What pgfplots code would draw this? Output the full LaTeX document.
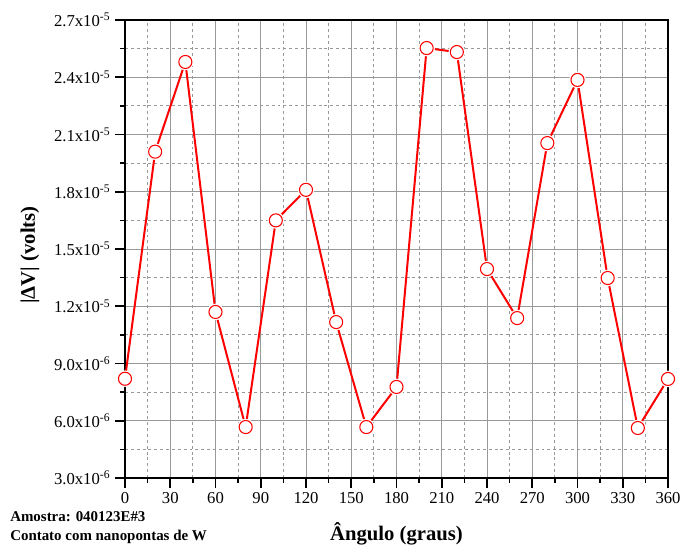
\documentclass[border=0pt]{standalone}
\usepackage{fontspec}
\setmainfont{Liberation Serif}
\usepackage{pgfplots}
\pgfplotsset{compat=1.18}
\pgfplotstableread{
ang val
0 8.2e-6
20 20.1e-6
40 24.8e-6
60 11.7e-6
80 5.67e-6
100 16.5e-6
120 18.1e-6
140 11.17e-6
160 5.67e-6
180 7.77e-6
200 25.53e-6
220 25.32e-6
240 13.95e-6
260 11.38e-6
280 20.55e-6
300 23.86e-6
320 13.48e-6
340 5.62e-6
360 8.19e-6
}\datatab
\begin{document}
\begin{tikzpicture}
\path[use as bounding box] (-93.75pt,-52.5pt) rectangle (416.25pt,358.5pt);
\begin{axis}[
 at={(0pt,0pt)}, anchor=south west,
 scale only axis, width=407.25pt, height=343.5pt,
 xmin=0, xmax=360, ymin=3e-6, ymax=2.7e-5,
 xtick={0,30,60,90,120,150,180,210,240,270,300,330,360},
 xticklabels={0,30,60,90,120,150,180,210,240,270,300,330,360},
 minor x tick num=1,
 ytick={3e-6,6e-6,9e-6,1.2e-5,1.5e-5,1.8e-5,2.1e-5,2.4e-5,2.7e-5},
 yticklabels={3.0x10\textsuperscript{-6},6.0x10\textsuperscript{-6},9.0x10\textsuperscript{-6},1.2x10\textsuperscript{-5},1.5x10\textsuperscript{-5},1.8x10\textsuperscript{-5},2.1x10\textsuperscript{-5},2.4x10\textsuperscript{-5},2.7x10\textsuperscript{-5}},
 minor y tick num=1,
 scaled y ticks=false,
 grid=both,
 major grid style={gray!80, line width=0.6pt},
 minor grid style={gray!80, line width=0.6pt, dash pattern=on 2.2pt off 2.2pt},
 axis line style={line width=1.5pt},
 tick style={black, line width=1.2pt},
 major tick length=7.5pt, minor tick length=3.75pt,
 tick align=outside,
 xtick pos=bottom, ytick pos=left,
 tick label style={font=\fontsize{12.5}{14}\selectfont},
 xlabel={\textbf{Ângulo (graus)}},
 ylabel={\textbf{|ΔV| (volts)}},
 xlabel style={font=\fontsize{15.5}{18}\selectfont, at={(axis description cs:0.5,-0.1354)}, anchor=base},
 ylabel style={font=\fontsize{15.5}{18}\selectfont, at={(axis description cs:-0.175,0.487)}, anchor=center, rotate=0},
 clip=false,
]
\addplot[red, line width=1.5pt, mark=none] table[x=ang,y=val]{\datatab};
\addplot[white, only marks, mark=*, mark size=6pt, mark options={fill=white, draw=white}] table[x=ang,y=val]{\datatab};
\addplot[red, only marks, mark=*, mark size=4.9pt, mark options={fill=white, draw=red, line width=0.8pt}] table[x=ang,y=val]{\datatab};
\node[anchor=north west, align=left, inner sep=0pt, font=\fontsize{11.2}{14.25}\selectfont\bfseries] at (axis description cs:-0.2118,-0.0720) {Amostra: 040123E\#3\\Contato com nanopontas de W};
\end{axis}
\end{tikzpicture}
\end{document}
